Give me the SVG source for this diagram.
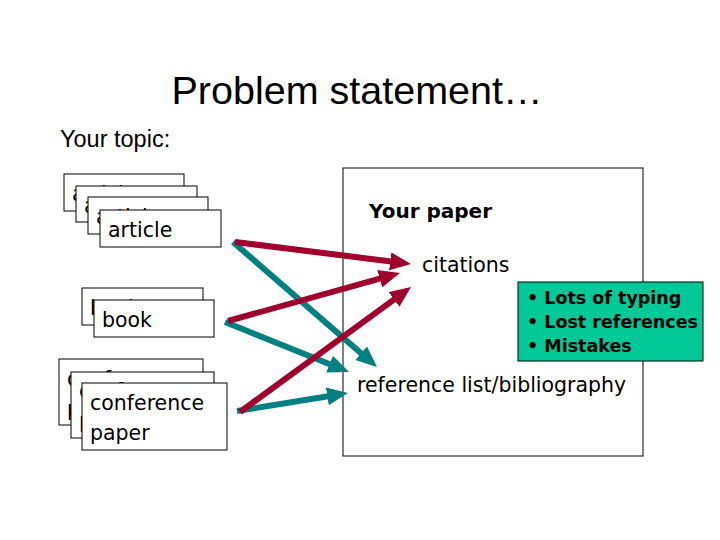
<svg xmlns="http://www.w3.org/2000/svg" width="720" height="540" viewBox="0 0 720 540">
<style>
.card{fill:#fff;stroke:#000;stroke-width:1}
.ct{font-family:"DejaVu Sans",sans-serif;font-size:20.5px;fill:#000}
.title{font-family:"Liberation Sans",Arial,sans-serif;fill:#000}
.red{stroke:#A0002D;stroke-width:6;fill:none;marker-end:url(#ahR)}
.teal{stroke:#008080;stroke-width:6;fill:none;marker-end:url(#ahT)}
.bul{font-family:"DejaVu Sans",sans-serif;font-weight:bold;font-size:17.5px;fill:#000}
</style>
<defs>
<marker id="ahR" markerUnits="userSpaceOnUse" markerWidth="22" markerHeight="18" viewBox="0 0 22 18" refX="1" refY="9" orient="auto"><path d="M0,0 L21,9 L0,18 z" fill="#A0002D"/></marker>
<marker id="ahT" markerUnits="userSpaceOnUse" markerWidth="22" markerHeight="18" viewBox="0 0 22 18" refX="1" refY="9" orient="auto"><path d="M0,0 L21,9 L0,18 z" fill="#008080"/></marker>
</defs>
<rect width="720" height="540" fill="#fff"/>
<text class="title" x="357" y="104" font-size="39.5" text-anchor="middle">Problem statement…</text>
<text class="title" x="60" y="147" font-size="23.5">Your topic:</text>

<g id="articles">
<rect class="card" x="64" y="174" width="120" height="37"/><text class="ct" x="72" y="201">article</text>
<rect class="card" x="76" y="186" width="121" height="36"/><text class="ct" x="84" y="213">article</text>
<rect class="card" x="88" y="197" width="120" height="37"/><text class="ct" x="96" y="224">article</text>
<rect class="card" x="100" y="210" width="121" height="37"/><text class="ct" x="108" y="237">article</text>
</g>
<g id="books">
<rect class="card" x="82" y="288" width="121" height="37"/><text class="ct" x="90" y="315">book</text>
<rect class="card" x="94" y="300" width="120" height="37"/><text class="ct" x="102" y="327">book</text>
</g>
<g id="conference">
<rect class="card" x="59" y="359" width="144" height="66"/><text class="ct" x="67" y="386">conference</text><text class="ct" x="67" y="416">paper</text>
<rect class="card" x="71" y="372" width="143" height="66"/><text class="ct" x="79" y="398">conference</text><text class="ct" x="79" y="428">paper</text>
<rect class="card" x="82" y="383" width="145" height="67"/><text class="ct" x="90" y="410">conference</text><text class="ct" x="90" y="440">paper</text>
</g>

<g id="paper">
<rect x="343" y="168" width="300" height="288" fill="#fff" stroke="#000" stroke-width="1"/>
<text x="369" y="218" font-family="DejaVu Sans,sans-serif" font-weight="bold" font-size="20" fill="#000">Your paper</text>
<text class="ct" x="422" y="272">citations</text>
<text class="ct" x="357" y="392" font-size="21">reference list/bibliography</text>
</g>

<g id="connectors">
<line class="teal" x1="233" y1="242" x2="361.9" y2="353.9"/>
<line class="teal" x1="225" y1="322" x2="330.5" y2="364.5"/>
<line class="teal" x1="237" y1="411" x2="328.3" y2="396.2"/>
<line class="red" x1="235" y1="242" x2="391.2" y2="261.5"/>
<line class="red" x1="228" y1="321" x2="380.7" y2="278.4"/>
<line class="red" x1="240" y1="412" x2="394.9" y2="298.8"/>
</g>

<g id="problems">
<rect x="518" y="282" width="185" height="79" fill="#00C896" stroke="#000" stroke-width="1"/>
<text class="bul" x="527" y="304">• Lots of typing</text>
<text class="bul" x="527" y="328">• Lost references</text>
<text class="bul" x="527" y="352">• Mistakes</text>
</g>
</svg>
